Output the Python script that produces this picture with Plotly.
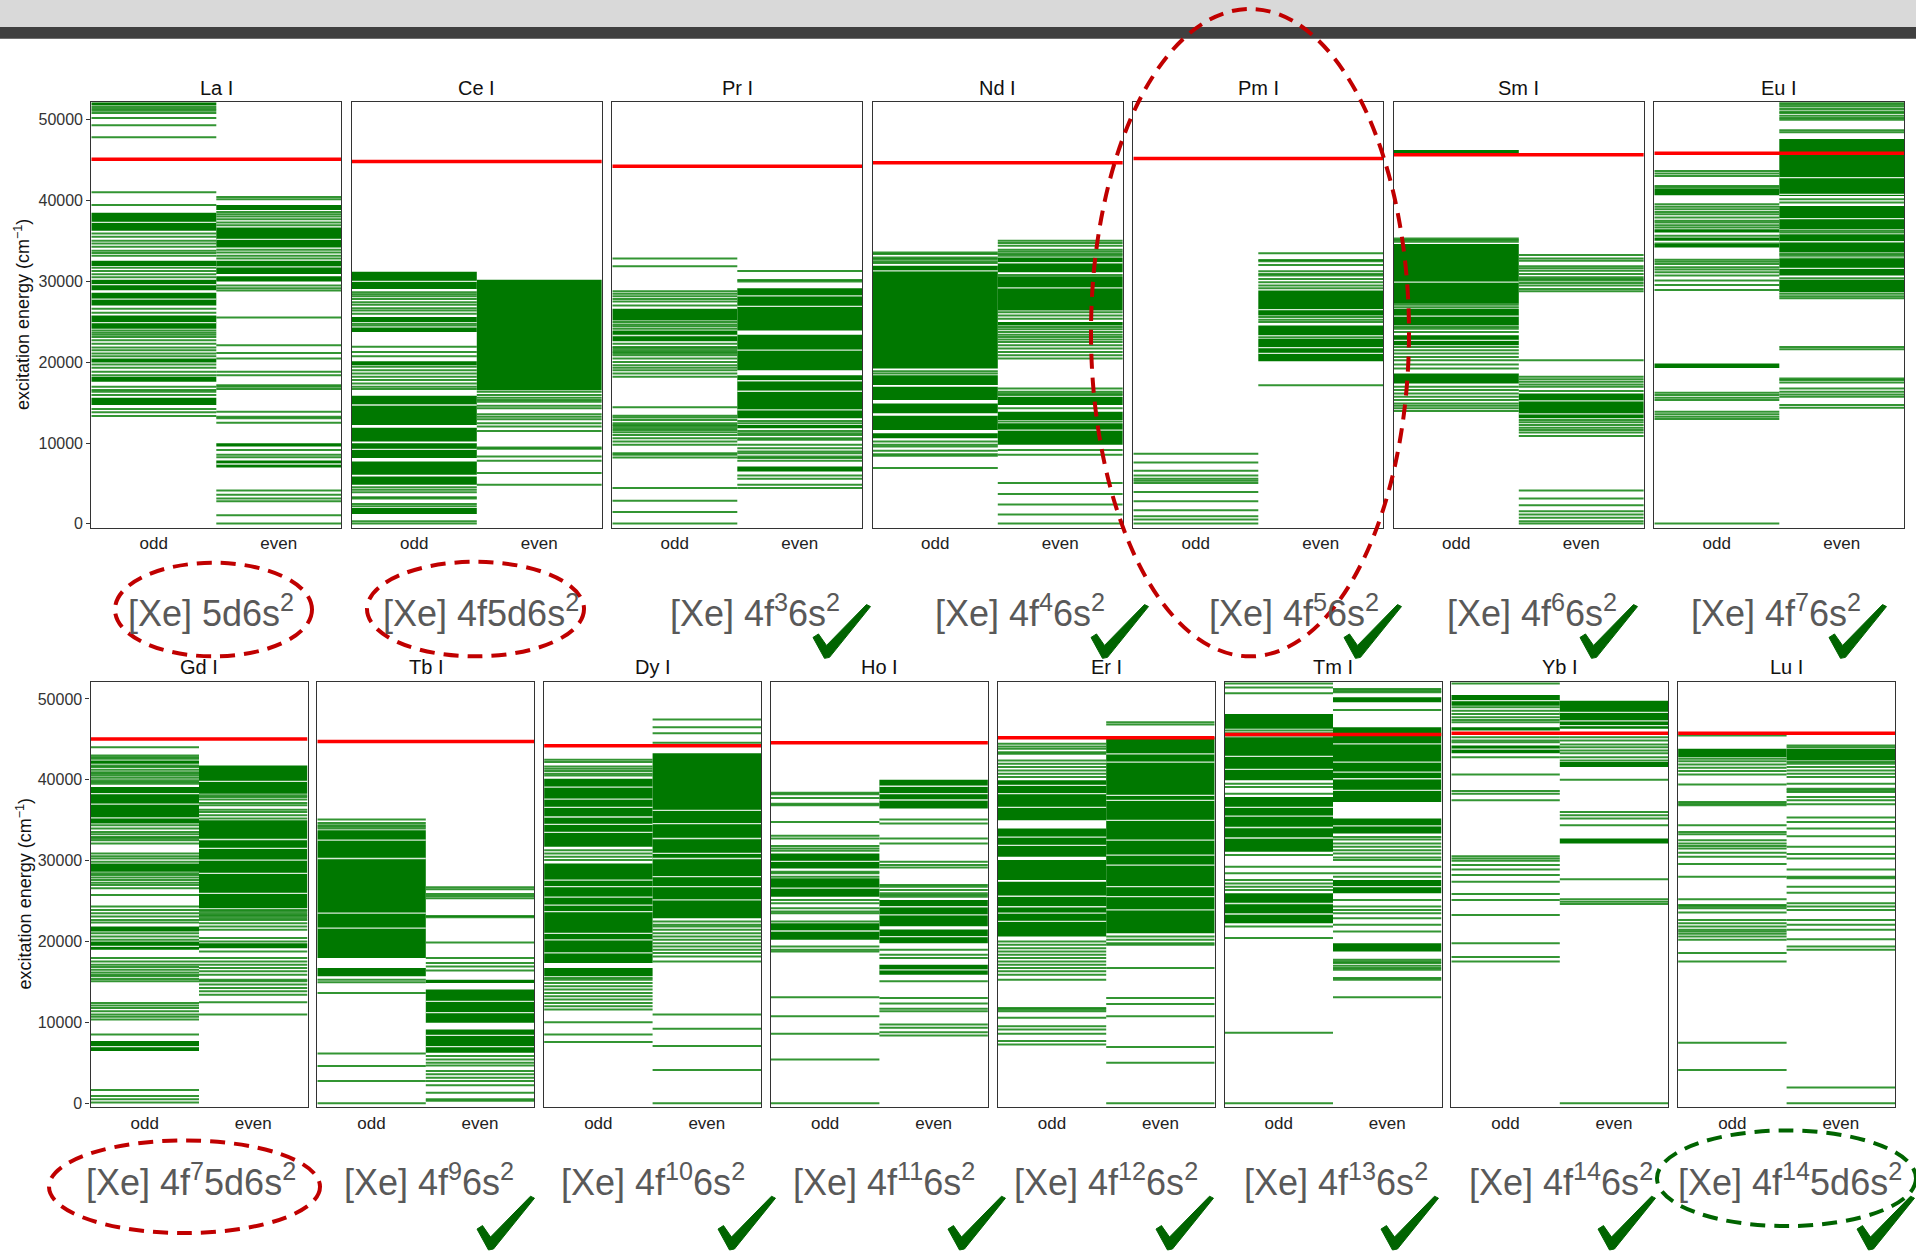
import plotly.graph_objects as go

W, H = 1916, 1251

ELEMENTS = ["La I", "Ce I", "Pr I", "Nd I", "Pm I", "Sm I", "Eu I",
            "Gd I", "Tb I", "Dy I", "Ho I", "Er I", "Tm I", "Yb I", "Lu I"]
IONIZATION = [45110, 44830, 44250, 44660, 45200, 45650, 45850,
              45060, 44730, 44200, 44570, 45190, 45600, 45760, 45760]
CONFIGS_TOP = ["[Xe] 5d6s<sup>2</sup>", "[Xe] 4f5d6s<sup>2</sup>", "[Xe] 4f<sup>3</sup>6s<sup>2</sup>",
               "[Xe] 4f<sup>4</sup>6s<sup>2</sup>", "[Xe] 4f<sup>5</sup>6s<sup>2</sup>",
               "[Xe] 4f<sup>6</sup>6s<sup>2</sup>", "[Xe] 4f<sup>7</sup>6s<sup>2</sup>"]
CONFIGS_BOTTOM = ["[Xe] 4f<sup>7</sup>5d6s<sup>2</sup>", "[Xe] 4f<sup>9</sup>6s<sup>2</sup>",
                  "[Xe] 4f<sup>10</sup>6s<sup>2</sup>", "[Xe] 4f<sup>11</sup>6s<sup>2</sup>",
                  "[Xe] 4f<sup>12</sup>6s<sup>2</sup>", "[Xe] 4f<sup>13</sup>6s<sup>2</sup>",
                  "[Xe] 4f<sup>14</sup>6s<sup>2</sup>", "[Xe] 4f<sup>14</sup>5d6s<sup>2</sup>"]
Y_TICKS = [0, 10000, 20000, 30000, 40000, 50000]
X_TICKS = ["odd", "even"]

# ---- energy levels (cm^-1): individual levels, dense bands (lo, hi), and gaps inside bands ----
la_odd_lines = [51560, 51310, 51110, 50820, 50210, 49300, 47820, 41010, 39450, 35920, 35510, 35020, 34690, 34280,
                33790, 33500, 33170, 31690, 31280, 30870, 30500, 26600, 26110, 23930, 23650, 23400, 23110, 22700,
                22290, 21800, 21470, 21060, 20730, 19710, 19300, 18800, 18390, 16960, 16550, 16340, 15930, 14200,
                13790, 13340]
la_odd_bands = [(51750, 52150), (36250, 38470), (31900, 32550), (28900, 30210), (27010, 28600), (24140, 25780),
                (19950, 20440), (17570, 18190), (14700, 15600)]
la_odd_gaps = [37300, 29600, 27800, 24900]
la_even_lines = [40430, 40150, 38590, 38300, 38010, 37690, 37280, 36950, 33910, 33580, 33170, 32840, 29470, 29150,
                 28860, 25530, 22090, 21140, 20440, 18800, 18390, 17160, 16960, 16670, 13870, 13260, 13060, 12520,
                 9150, 8540, 8250, 4110, 3610, 3120, 2790, 1070, 40]
la_even_bands = [(38830, 39450), (34200, 36660), (30910, 32550), (29970, 30620), (9560, 9980), (6980, 7840)]
la_even_gaps = [35200, 31800, 7400]

ce_odd_lines = [28650, 28410, 28160, 27830, 27420, 27090, 26680, 26400, 25990, 24750, 24550, 21920, 21270, 20730,
                19420, 19010, 18600, 18190, 17780, 17370, 16960, 16670, 4520, 4230, 3900, 3280, 3120, 2460, 2180,
                330, 40]
ce_odd_bands = [(29060, 31200), (24960, 25580), (23730, 24300), (19620, 20110), (12230, 15850), (10180, 11900),
                (8130, 9980), (6080, 7720), (4840, 5870), (1230, 1970)]
ce_odd_gaps = [30000, 14700, 9200]
ce_even_lines = [16340, 15930, 15600, 15310, 15110, 14610, 14290, 13550, 13260, 12930, 12440, 12030, 11490, 9440,
                 9280, 8330, 7800, 6280, 4840]
ce_even_bands = [(16540, 30210)]
ce_even_gaps = []

pr_odd_lines = [32840, 31860, 28780, 28450, 28160, 27830, 27500, 27010, 24960, 24670, 24430, 24140, 22290, 21880,
                21680, 21470, 21270, 21060, 20860, 20440, 20030, 19620, 19300, 19010, 18600, 18190, 14410, 13380,
                13140, 12850, 12440, 12240, 12030, 11830, 11620, 11330, 11000, 10590, 10180, 9770, 8740, 8540, 8210,
                4430, 2870, 1480, 40]
pr_odd_bands = [(25170, 26600), (22580, 23930)]
pr_odd_gaps = [23300]
pr_even_lines = [31280, 30170, 29970, 12730, 12440, 11490, 11210, 11000, 10590, 10390, 9770, 9360, 8950, 8740, 8330,
                 8130, 7800, 5990, 5580, 4840, 4430]
pr_even_bands = [(23930, 29150), (19010, 23400), (13060, 18390), (11830, 12240), (6490, 7100)]
pr_even_gaps = [28200, 26900, 21500, 17700, 16400, 14100]

nd_odd_lines = [33580, 33380, 32960, 32760, 32470, 32270, 18880, 18600, 10180, 9770, 9570, 9030, 8620, 8420, 6900]
nd_odd_bands = [(19210, 31940), (17170, 18390), (15320, 16960), (13670, 14900), (11620, 13380), (10590, 11210)]
nd_odd_gaps = [31300]
nd_even_lines = [35020, 34730, 34400, 33910, 33660, 33380, 33170, 30790, 26190, 25780, 25370, 24340, 24060, 23730,
                 23400, 23110, 22820, 22500, 22090, 21680, 21270, 20860, 20440, 16750, 16340, 16130, 15930, 14290,
                 12650, 9150, 8540, 5050, 3690, 2380, 1150, 40]
nd_even_bands = [(31120, 32960), (26400, 30620), (24550, 24960), (14700, 15720), (12850, 13870), (9770, 12440)]
nd_even_gaps = [32300, 29200, 11600]

pm_odd_lines = [8660, 7590, 6570, 5990, 5580, 5340, 5050, 3940, 2790, 1680, 940, 530, 40]
pm_odd_bands = []
pm_odd_gaps = []
pm_even_lines = [33460, 32630, 32470, 32020, 31240, 30910, 30710, 30300, 29890, 29470, 29150, 25580, 25250, 24960,
                 23070, 17160]
pm_even_bands = [(25780, 28860), (23320, 24550), (20110, 22910)]
pm_even_gaps = [26500, 21800, 21100]

sm_odd_lines = [35300, 35100, 34890, 27090, 26800, 24340, 24140, 23730, 21880, 21470, 21060, 20650, 20240, 19700,
                19210, 16960, 16550, 16130, 15720, 15310, 14900, 14610, 14290, 13960]
sm_odd_bands = [(45770, 46260), (27220, 34610), (24550, 26600), (22090, 23320), (17370, 18600)]
sm_odd_gaps = [29900, 25700, 22700]
sm_even_lines = [33250, 32840, 32550, 31860, 31610, 31320, 30910, 30500, 30300, 30090, 29800, 29470, 29060, 28780,
                 20240, 18190, 17900, 17570, 17240, 16960, 16420, 12850, 12560, 12240, 11900, 11620, 11290, 10880,
                 4110, 3120, 2300, 1560, 1150, 740, 330, 40]
sm_even_bands = [(13060, 16130)]
sm_even_gaps = [15200, 13600]

eu_odd_lines = [43640, 43350, 43020, 41790, 41580, 39530, 39240, 38920, 38590, 38300, 37890, 37480, 37280, 36950,
                36660, 35630, 34690, 32680, 32430, 32140, 31730, 31450, 31120, 30710, 30090, 29560, 28940, 16210,
                15930, 15600, 15310, 13880, 13550, 13260, 12970, 40]
eu_odd_bands = [(40640, 41460), (36040, 36450), (35020, 35430), (34200, 34610), (19290, 19830)]
eu_odd_gaps = []
eu_even_lines = [52050, 51850, 51640, 51310, 51020, 50820, 50490, 50210, 50000, 48690, 48440, 40150, 39740, 36250,
                 36040, 33380, 33170, 32840, 30380, 28450, 28160, 27910, 21880, 21590, 17980, 17780, 17490, 16750,
                 16340, 16010, 15720, 14700, 14370]
eu_even_bands = [(40560, 47620), (36450, 39330), (33580, 35840), (30710, 32760), (28650, 30210)]
eu_even_gaps = [42820, 40760, 37770, 34900, 31600]

gd_odd_lines = [44040, 43010, 42800, 42600, 41780, 41570, 41240, 40950, 40750, 40540, 40260, 39930, 39720, 39520,
                34380, 33970, 33560, 33270, 32940, 32740, 32530, 32120, 30890, 30560, 30270, 29860, 28430, 28220,
                27930, 27600, 27280, 26990, 26580, 25760, 24320, 23910, 23500, 23090, 22670, 22340, 21030, 20620,
                20210, 17950, 17540, 17130, 16840, 16510, 16180, 15900, 15690, 15360, 15080, 12400, 12080, 11790,
                11380, 10970, 10680, 10350, 8500, 1640, 900, 490, 80]
gd_odd_bands = [(41980, 42390), (34590, 39110), (28630, 29660), (21240, 21850), (18980, 20000), (6450, 7680)]
gd_odd_gaps = [38300, 37000, 35300, 19400, 7000]
gd_even_lines = [38080, 37870, 37550, 37130, 36850, 36310, 36020, 35610, 35200, 23910, 23700, 23500, 23290, 23090,
                 22880, 22670, 22260, 21850, 21440, 20420, 20000, 18770, 17950, 17540, 17130, 16720, 16310, 15900,
                 15280, 15080, 14670, 14260, 13850, 13430, 12490, 10970]
gd_even_bands = [(38290, 41780), (24110, 35000), (19180, 19800)]
gd_even_gaps = [39800, 32620, 31510, 30070, 28430, 25960]

tb_odd_lines = [35080, 34670, 34380, 34180, 33970, 15280, 14950, 13640, 6160, 4600, 2750, 0]
tb_odd_bands = [(17950, 33770), (15690, 16720)]
tb_odd_gaps = [32530, 30270, 23500, 21650]
tb_even_lines = [26700, 26450, 25880, 25630, 25340, 23170, 23000, 19880, 17950, 17330, 16920, 16430, 5830, 5420,
                 5010, 4680, 3980, 3570, 3160, 2750, 2220, 1310, 490, 290]
tb_even_bands = [(14870, 15280), (9940, 14050), (6240, 9120)]
tb_even_gaps = [12600, 11200, 8400, 7000]

dy_odd_lines = [42480, 42190, 41660, 41370, 41080, 40750, 40540, 31300, 30890, 30480, 30070, 15490, 15280, 14870,
                14460, 14050, 13640, 13230, 12820, 12400, 11990, 11580, 10020, 8500, 7560]
dy_odd_bands = [(31710, 40130), (17340, 29660), (15690, 16720)]
dy_odd_gaps = [39100, 37600, 36600, 35400, 34500, 33500, 27600, 26800, 25500, 24500, 23700, 21000, 20200, 18600]
dy_even_lines = [47450, 46500, 45760, 44570, 22470, 22060, 21850, 21440, 21030, 20620, 20210, 19800, 19390, 18980,
                 18570, 18160, 17540, 10970, 9200, 7070, 4110, 0]
dy_even_bands = [(22880, 43300)]
dy_even_gaps = [36230, 34590, 32740, 30890, 30270, 28020, 26780, 25140]

ho_odd_lines = [38410, 38200, 37750, 37050, 36850, 34790, 33070, 32740, 31800, 31510, 31220, 28630, 28430, 28020,
                25140, 24730, 24110, 23700, 23500, 22470, 19390, 18980, 18770, 13100, 10760, 8590, 5420, 0]
ho_odd_bands = [(29040, 30890), (25550, 27810), (20210, 22260)]
ho_odd_gaps = [29900, 26600, 21300]
ho_even_lines = [35080, 34590, 32740, 32120, 29860, 29450, 29160, 26990, 26780, 26370, 25960, 25760, 25550, 18980,
                 18360, 17950, 15080, 13020, 12320, 11670, 11380, 9740, 9330, 8790, 8380]
ho_even_bands = [(36440, 40010), (21900, 25140), (19800, 21500), (15900, 17130)]
ho_even_gaps = [39200, 38300, 37500, 24300, 23300, 20600, 16500]

er_odd_lines = [44450, 44120, 43830, 43420, 43210, 42390, 41980, 41570, 41160, 40750, 40340, 19990, 19590, 19180,
                18770, 18360, 17950, 17540, 17130, 16720, 16310, 15900, 15280, 11790, 11580, 11380, 10560, 9530,
                9120, 8590, 7680, 7270]
er_odd_bands = [(34990, 39930), (30480, 33970), (27600, 30070), (20620, 27400)]
er_odd_gaps = [39300, 38300, 36600, 32900, 31900, 25600, 24300, 23500, 22500]
er_even_lines = [47120, 46830, 20620, 20210, 19800, 19590, 16720, 13020, 12280, 10760, 6940, 5010, 0]
er_even_bands = [(21030, 45270)]
er_even_gaps = [43210, 42190, 38080, 37460, 34990, 32530, 30690, 29450, 26780, 25550, 23910]

tm_odd_lines = [51920, 51430, 50690, 46090, 45760, 45470, 39520, 39110, 38290, 30690, 29250, 28430, 27600, 27190,
                26780, 26370, 21850, 20420, 8710, 0]
tm_odd_bands = [(46300, 48150), (39930, 45270), (31100, 37870), (22260, 25960)]
tm_odd_gaps = [42900, 41300, 36600, 35500, 34100, 32800, 24700, 23400]
tm_even_lines = [51230, 51020, 50820, 48640, 32940, 32620, 32120, 31710, 31300, 30890, 30400, 30070, 29250, 28430,
                 28020, 25140, 24320, 23910, 23500, 22880, 22060, 21240, 17740, 17540, 17330, 17000, 16720, 16510,
                 15490, 15280, 13100]
tm_even_bands = [(49580, 50200), (37260, 46500), (33360, 35200), (25960, 27600), (18770, 19800)]
tm_even_gaps = [44450, 42190, 40950, 40130, 38700, 34300, 26800]

yb_odd_lines = [51920, 48970, 48550, 48140, 47730, 47400, 47120, 45270, 44860, 44650, 42800, 40670, 38610, 38290,
                37460, 30560, 30270, 29990, 29450, 28920, 28220, 27400, 25880, 25140, 23290, 19800, 18070, 17540]
yb_odd_bands = [(49170, 50490), (46090, 46500), (43300, 44240)]
yb_odd_gaps = [49800, 43800]
yb_even_lines = [45680, 45270, 44860, 44360, 44040, 43630, 43300, 42800, 42390, 40010, 36020, 35610, 35200, 34380,
                 27690, 25220, 24930, 24650, 0]
yb_even_bands = [(46300, 49790), (41570, 42190), (32120, 32740)]
yb_even_gaps = [48350, 47300, 46700]

lu_odd_lines = [45470, 42600, 42310, 41900, 41490, 41080, 40670, 39430, 37260, 37050, 36850, 34380, 33560, 33270,
                32530, 32120, 31800, 31510, 30970, 30480, 29580, 28020, 25220, 24520, 24320, 24110, 23580, 22670,
                22260, 21850, 21440, 21240, 20950, 20620, 20210, 18570, 17540, 7480, 4110]
lu_odd_bands = [(42800, 43830)]
lu_odd_gaps = []
lu_even_lines = [44240, 44040, 42190, 41980, 41570, 41160, 40750, 40340, 39520, 38900, 38700, 38490, 37870, 37460,
                 36970, 35330, 34790, 33970, 33030, 31710, 30810, 30270, 28920, 28020, 27810, 26780, 26040, 24730,
                 24320, 23910, 22670, 22060, 21440, 20290, 19390, 18980, 1930, 0]
lu_even_bands = [(42390, 43830)]
lu_even_gaps = []

LEVELS = [
    (la_odd_lines, la_odd_bands, la_odd_gaps, la_even_lines, la_even_bands, la_even_gaps),
    (ce_odd_lines, ce_odd_bands, ce_odd_gaps, ce_even_lines, ce_even_bands, ce_even_gaps),
    (pr_odd_lines, pr_odd_bands, pr_odd_gaps, pr_even_lines, pr_even_bands, pr_even_gaps),
    (nd_odd_lines, nd_odd_bands, nd_odd_gaps, nd_even_lines, nd_even_bands, nd_even_gaps),
    (pm_odd_lines, pm_odd_bands, pm_odd_gaps, pm_even_lines, pm_even_bands, pm_even_gaps),
    (sm_odd_lines, sm_odd_bands, sm_odd_gaps, sm_even_lines, sm_even_bands, sm_even_gaps),
    (eu_odd_lines, eu_odd_bands, eu_odd_gaps, eu_even_lines, eu_even_bands, eu_even_gaps),
    (gd_odd_lines, gd_odd_bands, gd_odd_gaps, gd_even_lines, gd_even_bands, gd_even_gaps),
    (tb_odd_lines, tb_odd_bands, tb_odd_gaps, tb_even_lines, tb_even_bands, tb_even_gaps),
    (dy_odd_lines, dy_odd_bands, dy_odd_gaps, dy_even_lines, dy_even_bands, dy_even_gaps),
    (ho_odd_lines, ho_odd_bands, ho_odd_gaps, ho_even_lines, ho_even_bands, ho_even_gaps),
    (er_odd_lines, er_odd_bands, er_odd_gaps, er_even_lines, er_even_bands, er_even_gaps),
    (tm_odd_lines, tm_odd_bands, tm_odd_gaps, tm_even_lines, tm_even_bands, tm_even_gaps),
    (yb_odd_lines, yb_odd_bands, yb_odd_gaps, yb_even_lines, yb_even_bands, yb_even_gaps),
    (lu_odd_lines, lu_odd_bands, lu_odd_gaps, lu_even_lines, lu_even_bands, lu_even_gaps),
]

# ---- styling / layout ----
FONT = "Liberation Sans, Arial, sans-serif"
LINE_GREEN = "rgba(0,122,0,0.8)"
GAP_COLOR = "rgba(255,255,255,0.85)"
BAND_GREEN = "#007800"
RED = "#ff0000"
Y_RANGE = [-500, 52150]


def px_x(px):
    return px / W


def px_y(py):
    return 1 - py / H


def segments(values, col):
    xs, ys = [], []
    for v in values:
        xs += [col, col + 1, None]
        ys += [v, v, None]
    return xs, ys


fig = go.Figure()
shapes = []
annotations = []
layout_axes = {}

# header bars
shapes.append(dict(type="rect", xref="paper", yref="paper", x0=0, x1=1, y0=px_y(27), y1=1,
                   fillcolor="#d9d9d9", line=dict(width=0), layer="below"))
shapes.append(dict(type="rect", xref="paper", yref="paper", x0=0, x1=1, y0=px_y(39), y1=px_y(27),
                   fillcolor="#404040", line=dict(width=0), layer="below"))

for k, (name, data, ip) in enumerate(zip(ELEMENTS, LEVELS, IONIZATION)):
    n = k + 1
    xa = "x" if n == 1 else f"x{n}"
    ya = "y" if n == 1 else f"y{n}"
    if k < 7:
        x0 = 91.3 + k * 260.5
        x1 = x0 + 250
        top, bot = 102.7, 530.0
        title_y = 88
        first = k == 0
    else:
        j = k - 7
        x0 = 90.5 + j * 226.8
        x1 = x0 + 217
        top, bot = 684.3, 1111.7
        title_y = 670
        first = j == 0

    odd_l, odd_b, odd_g, even_l, even_b, even_g = data
    for col, (lines, bands, gaps) in enumerate([(odd_l, odd_b, odd_g), (even_l, even_b, even_g)]):
        for lo, hi in bands:
            shapes.append(dict(type="rect", xref=xa, yref=ya, x0=col, x1=col + 1, y0=lo, y1=hi,
                               fillcolor=BAND_GREEN, line=dict(width=0), layer="below"))
        if gaps:
            gx, gy = segments(gaps, col)
            fig.add_trace(go.Scatter(x=gx, y=gy, mode="lines", line=dict(color=GAP_COLOR, width=1.3),
                                     xaxis=xa, yaxis=ya, hoverinfo="skip", showlegend=False))
        xs, ys = segments(lines, col)
        fig.add_trace(go.Scatter(x=xs, y=ys, mode="lines", line=dict(color=LINE_GREEN, width=2),
                                 xaxis=xa, yaxis=ya, hoverinfo="skip", showlegend=False))
    fig.add_trace(go.Scatter(x=[0, 2], y=[ip, ip], mode="lines", line=dict(color=RED, width=3.5),
                             xaxis=xa, yaxis=ya, hoverinfo="skip", showlegend=False))

    xkey = "xaxis" if n == 1 else f"xaxis{n}"
    ykey = "yaxis" if n == 1 else f"yaxis{n}"
    layout_axes[xkey] = dict(domain=[px_x(x0), px_x(x1)], range=[0, 2], anchor=ya, showgrid=False,
                             zeroline=False, showline=True, mirror=True, linecolor="#333333", linewidth=1.2,
                             tickvals=[0.5, 1.5], ticktext=X_TICKS, ticks="",
                             tickfont=dict(family=FONT, size=17, color="#222222"), fixedrange=True)
    layout_axes[ykey] = dict(domain=[px_y(bot), px_y(top)], range=Y_RANGE, anchor=xa, showgrid=False,
                             zeroline=False, showline=True, mirror=True, linecolor="#333333", linewidth=1.2,
                             tickvals=Y_TICKS, ticktext=[str(v) for v in Y_TICKS],
                             showticklabels=first, ticks="outside" if first else "", ticklen=4,
                             tickcolor="#333333", tickfont=dict(family=FONT, size=16, color="#333333"),
                             fixedrange=True)
    annotations.append(dict(text=name, xref="paper", yref="paper", x=px_x((x0 + x1) / 2), y=px_y(title_y),
                            xanchor="center", yanchor="middle", showarrow=False,
                            font=dict(family=FONT, size=20, color="#111111")))
    if first:
        annotations.append(dict(text="excitation energy (cm<sup>\u22121</sup>)", xref="paper", yref="paper",
                                x=px_x(22 if k < 7 else 24), y=px_y((top + bot) / 2), textangle=-90,
                                xanchor="center", yanchor="middle", showarrow=False,
                                font=dict(family=FONT, size=18, color="#111111")))

# configuration labels
TOP_LABEL_X = [211, 481, 755, 1020, 1294, 1532, 1776]
BOTTOM_LABEL_X = [191, 429, 653, 884, 1106, 1336, 1561, 1790]
for txt, cx in zip(CONFIGS_TOP, TOP_LABEL_X):
    annotations.append(dict(text=txt, xref="paper", yref="paper", x=px_x(cx), y=px_y(613),
                            xanchor="center", yanchor="middle", showarrow=False,
                            font=dict(family=FONT, size=36, color="#595959")))
for txt, cx in zip(CONFIGS_BOTTOM, BOTTOM_LABEL_X):
    annotations.append(dict(text=txt, xref="paper", yref="paper", x=px_x(cx), y=px_y(1185),
                            xanchor="center", yanchor="middle", showarrow=False,
                            font=dict(family=FONT, size=36, color="#595959")))


# dashed ellipses
def ellipse(xa0, xa1, ya0, ya1, color):
    return dict(type="circle", xref="paper", yref="paper", x0=px_x(xa0), x1=px_x(xa1),
                y0=px_y(ya1), y1=px_y(ya0), line=dict(color=color, width=4, dash="15px,9px"),
                fillcolor="rgba(0,0,0,0)", layer="above")


shapes.append(ellipse(115, 312, 565, 659, "#c00000"))
shapes.append(ellipse(367, 584, 564, 659, "#c00000"))
shapes.append(ellipse(1091, 1409, 9, 659, "#c00000"))
shapes.append(ellipse(49, 320, 1145, 1238, "#c00000"))
shapes.append(ellipse(1657, 1916, 1135, 1231, "#006400"))

# check marks
CHECK = [(0, 33), (5.5, 29.5), (13.5, 41), (53.5, 0), (57.5, 2), (16.5, 53), (11.5, 54)]


def check_path(bx, by):
    pts = [(px_x(bx + dx), px_y(by + dy)) for dx, dy in CHECK]
    return "M " + " L ".join(f"{x:.5f},{y:.5f}" for x, y in pts) + " Z"


for bx in [813, 1091, 1344, 1580, 1829]:
    shapes.append(dict(type="path", xref="paper", yref="paper", path=check_path(bx, 607),
                       fillcolor="#006400", line=dict(color="#006400", width=1), layer="above"))
for bx in [477, 718, 948, 1156, 1381, 1598, 1857]:
    shapes.append(dict(type="path", xref="paper", yref="paper", path=check_path(bx, 1201),
                       fillcolor="#006400", line=dict(color="#006400", width=1), layer="above"))

fig.update_layout(width=W, height=H, autosize=False, margin=dict(l=0, r=0, t=0, b=0),
                  paper_bgcolor="white", plot_bgcolor="white", showlegend=False,
                  shapes=shapes, annotations=annotations, **layout_axes)

fig.write_html("out.html", config={"displayModeBar": False})
